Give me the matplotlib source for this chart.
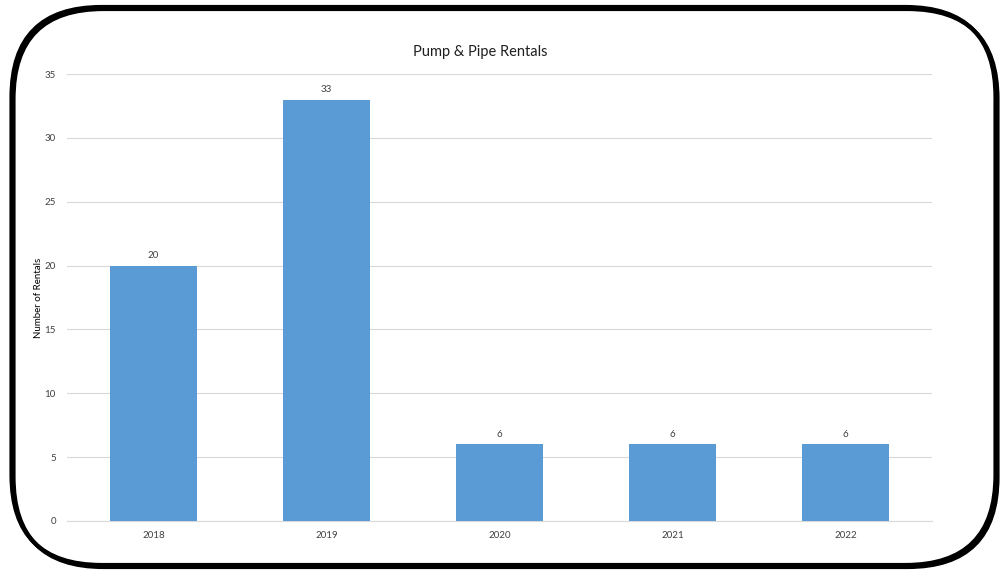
import matplotlib.pyplot as plt
from matplotlib.patches import FancyBboxPatch

years = ["2018", "2019", "2020", "2021", "2022"]
rentals = [20, 33, 6, 6, 6]
y_ticks = [0, 5, 10, 15, 20, 25, 30, 35]

plt.rcParams["font.family"] = ["Lato", "DejaVu Sans"]

fig = plt.figure(figsize=(10.01, 5.71), dpi=100)
ax = fig.add_axes([0.0669, 0.0876, 0.8641, 0.7828])

# rounded frame around the whole chart (with a slight shadow on right/bottom)
for dx, dy in [(0.02, -0.02), (0.0, 0.0)]:
    frame = FancyBboxPatch(
        (0.115 + dx, 0.06 + dy), 9.84, 5.58,
        boxstyle="round,pad=0,rounding_size=0.9",
        transform=fig.dpi_scale_trans, facecolor="none",
        edgecolor="black", linewidth=3.0, zorder=10,
    )
    fig.patches.append(frame)

bars = ax.bar(range(len(years)), rentals, width=0.5, color="#5B9BD5", zorder=3)
for bar, val in zip(bars, rentals):
    ax.text(bar.get_x() + bar.get_width() / 2, val + 0.4, str(val),
            ha="center", va="bottom", fontsize=7, color="#404040")

ax.set_xlim(-0.5, len(years) - 0.5)
ax.set_ylim(0, 35)
ax.set_yticks(y_ticks)
ax.set_xticks(range(len(years)))
ax.set_xticklabels(years)
ax.tick_params(axis="both", length=0, labelsize=7, labelcolor="#404040")
ax.tick_params(axis="y", pad=8)
ax.tick_params(axis="x", pad=7)
ax.grid(axis="y", color="#D9D9D9", linewidth=0.8, zorder=0)
for side in ["top", "right", "left"]:
    ax.spines[side].set_visible(False)
ax.spines["bottom"].set_color("#D9D9D9")

ax.set_ylabel("Number of Rentals", fontsize=7, color="#000000", labelpad=1)
fig.text(480 / 1001, 1 - 52 / 571, "Pump & Pipe Rentals", fontsize=10.5,
         color="#202020", ha="center", va="center")

fig.savefig("out.png", dpi=100)
